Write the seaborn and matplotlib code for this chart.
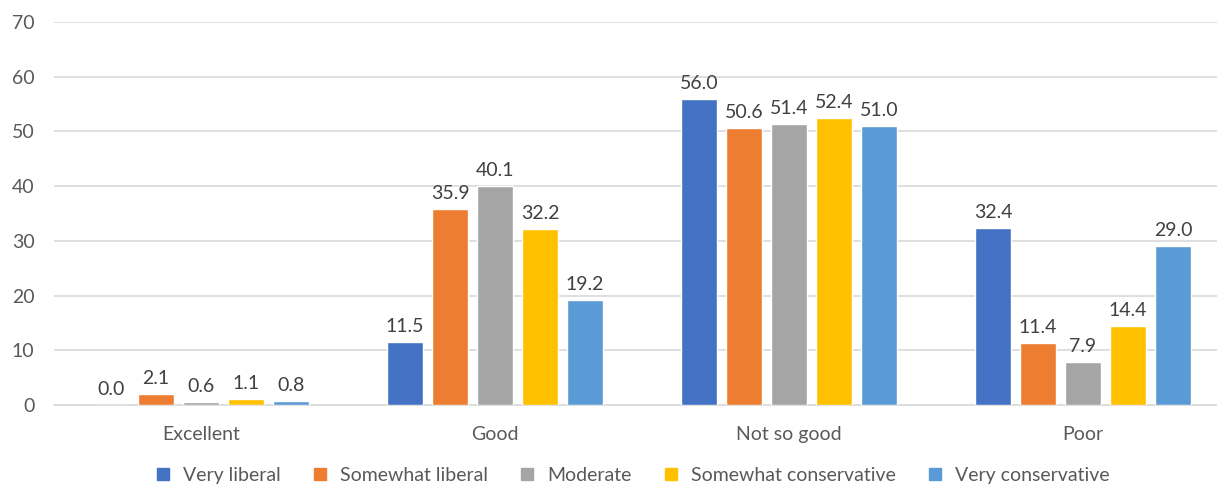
import pandas as pd
import numpy as np
import matplotlib
matplotlib.use("Agg")
import matplotlib.pyplot as plt
import seaborn as sns
from matplotlib.lines import Line2D

# data
categories = ["Excellent", "Good", "Not so good", "Poor"]
groups = ["Very liberal", "Somewhat liberal", "Moderate", "Somewhat conservative", "Very conservative"]
very_liberal = [0.0, 11.5, 56.0, 32.4]
somewhat_liberal = [2.1, 35.9, 50.6, 11.4]
moderate = [0.6, 40.1, 51.4, 7.9]
somewhat_conservative = [1.1, 32.2, 52.4, 14.4]
very_conservative = [0.8, 19.2, 51.0, 29.0]

colors = ["#4472C4", "#ED7D31", "#A5A5A5", "#FFC000", "#5B9BD5"]

series = [very_liberal, somewhat_liberal, moderate, somewhat_conservative, very_conservative]
rows = []
for g, vals in zip(groups, series):
    for c, v in zip(categories, vals):
        rows.append({"category": c, "group": g, "value": v})
df = pd.DataFrame(rows)

sns.set_style("white")
plt.rcParams["font.family"] = ["Lato", "DejaVu Sans"]

fig = plt.figure(figsize=(12.17, 4.87), dpi=100)
ax = fig.add_axes([54 / 1217, 82 / 487, (1217 - 54) / 1217, 383 / 487])

sns.barplot(data=df, x="category", y="value", hue="group", hue_order=groups,
            order=categories, palette=colors, width=0.765, gap=0.2,
            saturation=1, ax=ax, legend=False, zorder=3)

for cont in ax.containers:
    ax.bar_label(cont, fmt="%.1f", padding=5, fontsize=14, color="#404040")

ax.set_ylim(0, 70)
ax.set_xlim(-0.5, 3.456)
ax.set_yticks(np.arange(0, 71, 10))
ax.yaxis.grid(True, color="#D9D9D9", linewidth=1.2, zorder=0)
ax.set_axisbelow(True)
for s in ["top", "right", "left"]:
    ax.spines[s].set_visible(False)
ax.spines["bottom"].set_color("#D9D9D9")
ax.spines["bottom"].set_linewidth(1.2)
ax.tick_params(axis="both", length=0, labelsize=14, labelcolor="#595959")
ax.tick_params(axis="y", pad=14)
ax.tick_params(axis="x", pad=15)
ax.set_xlabel("")
ax.set_ylabel("")

# legend with square swatches along the bottom
handles = [Line2D([0], [0], marker="s", linestyle="", markersize=9,
                  markerfacecolor=c, markeredgecolor=c) for c in colors]
fig.legend(handles, groups, loc="lower center", bbox_to_anchor=(0.515, -0.03),
           ncol=5, frameon=False, fontsize=14, labelcolor="#595959",
           handletextpad=0.05, columnspacing=1.0)

fig.savefig("out.png", dpi=100)
